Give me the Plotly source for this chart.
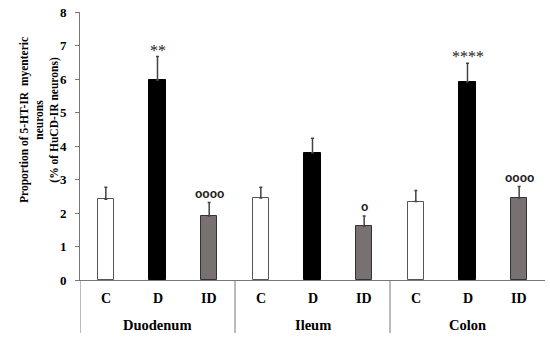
import plotly.graph_objects as go

groups = ["Duodenum", "Ileum", "Colon"]
treatments = ["C", "D", "ID"]
means = [2.41, 5.97, 1.91, 2.45, 3.80, 1.61, 2.34, 5.92, 2.45]
errors = [0.36, 0.70, 0.40, 0.32, 0.43, 0.30, 0.33, 0.55, 0.34]
sig = ["", "**", "oooo", "", "", "o", "", "****", "oooo"]
y_ticks = [0, 1, 2, 3, 4, 5, 6, 7, 8]

fill_map = {"C": "#ffffff", "D": "#000000", "ID": "#777171"}
line_map = {"C": "#555555", "D": "#000000", "ID": "#333333"}

W, H = 550, 341
L, R, T, B = 80, 5, 12, 61
pw, ph = W - L - R, H - T - B

xs = list(range(len(means)))
cats = treatments * len(groups)

fig = go.Figure()
fig.add_trace(go.Bar(
    x=xs, y=means, width=0.32,
    marker=dict(color=[fill_map[c] for c in cats],
                line=dict(color=[line_map[c] for c in cats], width=1)),
    error_y=dict(type="data", array=errors, arrayminus=[0] * len(errors),
                 symmetric=False, color="#444444", thickness=1.5, width=1.5),
    showlegend=False,
))

serif = "Liberation Serif, Times New Roman, serif"
ann = []
for i, s in enumerate(sig):
    if s:
        star = "*" in s
        ann.append(dict(x=i, y=means[i] + errors[i], xref="x", yref="y",
                        text=s if star else f"<b>{s}</b>", showarrow=False,
                        yanchor="bottom", xanchor="center",
                        yshift=-4 if star else 0,
                        font=dict(family=serif if star else "Liberation Sans, Arial, sans-serif",
                                  size=16 if star else 12, color="#222222")))
for i, c in enumerate(cats):
    ann.append(dict(x=i, y=(280 - 298) / ph, xref="x", yref="paper", text=f"<b>{c}</b>",
                    showarrow=False, xanchor="center", yanchor="middle",
                    font=dict(family=serif, size=14, color="#000")))
for g, name in enumerate(groups):
    ann.append(dict(x=g * 3 + 1, y=(280 - 325) / ph, xref="x", yref="paper",
                    text=f"<b>{name}</b>", showarrow=False, xanchor="center", yanchor="middle",
                    font=dict(family=serif, size=14.5, color="#000")))
ann.append(dict(x=(39 - L) / pw, y=(280 - 120) / ph, xref="paper", yref="paper",
                text="<b>Proportion of 5-HT-IR  myenteric<br>neurons<br>(% of HuCD-IR neurons)</b>",
                textangle=-90, showarrow=False, xanchor="center", yanchor="middle",
                font=dict(family=serif, size=11.5, color="#000")))

shapes = []
ybot = (280 - 333) / ph
for xv in [-0.5, 2.5, 5.5]:
    shapes.append(dict(type="line", xref="x", yref="paper", x0=xv, x1=xv, y0=ybot, y1=0,
                       line=dict(color="#777777", width=1)))

fig.update_layout(
    width=W, height=H, margin=dict(l=L, r=R, t=T, b=B),
    plot_bgcolor="white", paper_bgcolor="white",
    font=dict(color="#000000"),
    annotations=ann, shapes=shapes, bargap=0,
    xaxis=dict(range=[-0.5, 8.5], showticklabels=False, showgrid=False, zeroline=False,
               showline=True, linecolor="#777777", linewidth=1, ticks=""),
    yaxis=dict(range=[0, 8], tickvals=y_ticks, showgrid=False, zeroline=False,
               showline=True, linecolor="#777777", linewidth=1,
               ticks="outside", ticklen=4, tickcolor="#777777",
               ticklabelstandoff=6,
               tickfont=dict(family=serif, size=13, color="#000", weight="bold")),
)
fig.write_html("out.html", config={"displayModeBar": False},
               post_script="document.body.style.margin='0';")
